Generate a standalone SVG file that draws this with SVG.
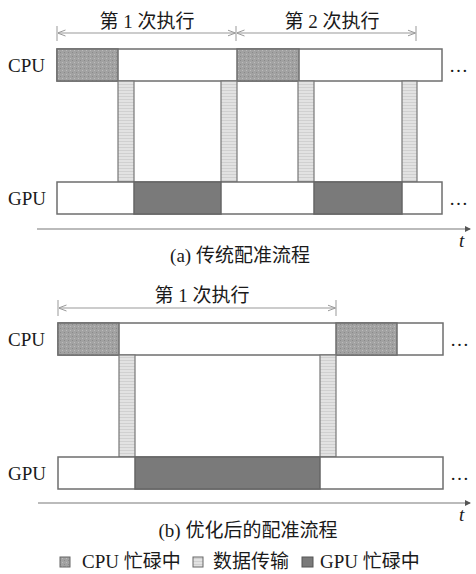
<svg xmlns="http://www.w3.org/2000/svg" width="476" height="574" viewBox="0 0 476 574">
<style>
.lbl{font-family:"Liberation Serif","Noto Sans CJK SC",serif;font-size:19px;fill:#1a1a1a}
.cjk{font-family:"Liberation Serif","Noto Sans CJK SC",serif;font-size:19px;fill:#1a1a1a}
.bar{fill:#fff;stroke:#6e6e6e;stroke-width:1.5}
.cpu{fill:url(#pCpu);stroke:#6e6e6e;stroke-width:1.5}
.gpu{fill:#7a7a7a;stroke:#666;stroke-width:1.5}
.xfer{fill:url(#pXfer);stroke:#777;stroke-width:1.2}
.dim{stroke:#999;stroke-width:1;fill:none}
.tick{stroke:#999;stroke-width:1}
.axis{stroke:#bbb;stroke-width:2;fill:none}
</style>
<defs>
<pattern id="pCpu" width="4" height="4" patternUnits="userSpaceOnUse">
<rect width="4" height="4" fill="#a2a2a2"/>
<rect x="0" y="0" width="1" height="1" fill="#8a8a8a"/>
<rect x="2" y="2" width="1" height="1" fill="#bcbcbc"/>
</pattern>
<pattern id="pXfer" width="4" height="3" patternUnits="userSpaceOnUse">
<rect width="4" height="3" fill="#e2e2e2"/>
<rect x="0" y="0" width="4" height="1" fill="#d0d0d0"/>
</pattern>
<marker id="ah" viewBox="0 0 8 8" refX="7.5" refY="4" markerWidth="8" markerHeight="8" markerUnits="userSpaceOnUse" orient="auto-start-reverse">
<path d="M0,1 L8,4 L0,7" fill="none" stroke="#999" stroke-width="1"/>
</marker>
<marker id="ax" viewBox="0 0 6 6" refX="5" refY="3" markerWidth="6" markerHeight="6" markerUnits="userSpaceOnUse" orient="auto">
<path d="M0,0 L6,3 L0,6 Z" fill="#555"/>
</marker>
</defs>

<!-- (a) -->
<g id="dim-a">
<line class="tick" x1="57" y1="26" x2="57" y2="41"/>
<line class="tick" x1="236" y1="26" x2="236" y2="41"/>
<line class="tick" x1="416" y1="26" x2="416" y2="41"/>
<line class="dim" x1="58" y1="33" x2="235" y2="33" marker-start="url(#ah)" marker-end="url(#ah)"/>
<line class="dim" x1="237" y1="33" x2="415" y2="33" marker-start="url(#ah)" marker-end="url(#ah)"/>
<text class="cjk" x="147" y="28" text-anchor="middle">第 1 次执行</text>
<text class="cjk" x="332" y="28" text-anchor="middle">第 2 次执行</text>
</g>

<g id="cpu-a">
<text class="lbl" x="8" y="72">CPU</text>
<rect class="bar" x="57" y="49" width="385" height="32"/>
<rect class="cpu" x="57" y="49" width="61" height="32"/>
<rect class="cpu" x="237" y="49" width="62" height="32"/>
<text class="lbl" x="449" y="72">…</text>
</g>

<g id="xfer-a">
<rect class="xfer" x="118" y="81" width="16" height="101"/>
<rect class="xfer" x="221" y="81" width="16" height="101"/>
<rect class="xfer" x="298" y="81" width="16" height="101"/>
<rect class="xfer" x="402" y="81" width="15" height="101"/>
</g>

<g id="gpu-a">
<text class="lbl" x="8" y="205">GPU</text>
<rect class="bar" x="57" y="182" width="385" height="32"/>
<rect class="gpu" x="134" y="182" width="87" height="32"/>
<rect class="gpu" x="314" y="182" width="88" height="32"/>
<text class="lbl" x="449" y="205">…</text>
</g>

<g id="axis-a">
<line class="axis" x1="37" y1="229" x2="470" y2="229" marker-end="url(#ax)"/>
<text class="lbl" x="459" y="247" font-style="italic">t</text>
<text class="cjk" x="240" y="262" text-anchor="middle">(a) 传统配准流程</text>
</g>

<!-- (b) -->
<g id="dim-b">
<line class="tick" x1="58" y1="300" x2="58" y2="316"/>
<line class="tick" x1="336" y1="300" x2="336" y2="316"/>
<line class="dim" x1="59" y1="308" x2="335" y2="308" marker-start="url(#ah)" marker-end="url(#ah)"/>
<text class="cjk" x="202" y="302" text-anchor="middle">第 1 次执行</text>
</g>

<g id="cpu-b">
<text class="lbl" x="8" y="346">CPU</text>
<rect class="bar" x="58" y="323" width="385" height="32"/>
<rect class="cpu" x="58" y="323" width="61" height="32"/>
<rect class="cpu" x="336" y="323" width="61" height="32"/>
<text class="lbl" x="450" y="346">…</text>
</g>

<g id="xfer-b">
<rect class="xfer" x="119" y="355" width="16" height="102"/>
<rect class="xfer" x="320" y="355" width="16" height="102"/>
</g>

<g id="gpu-b">
<text class="lbl" x="8" y="480">GPU</text>
<rect class="bar" x="58" y="457" width="385" height="32"/>
<rect class="gpu" x="135" y="457" width="185" height="32"/>
<text class="lbl" x="450" y="480">…</text>
</g>

<g id="axis-b">
<line class="axis" x1="38" y1="503" x2="470" y2="503" marker-end="url(#ax)"/>
<text class="lbl" x="459" y="521" font-style="italic">t</text>
<text class="cjk" x="248" y="537" text-anchor="middle">(b) 优化后的配准流程</text>
</g>

<g id="legend">
<rect x="60" y="557" width="10" height="10" fill="url(#pCpu)" stroke="#666" stroke-width="1"/>
<text class="cjk" x="82" y="568">CPU 忙碌中</text>
<rect x="193" y="557" width="10" height="10" fill="url(#pXfer)" stroke="#666" stroke-width="1"/>
<text class="cjk" x="213" y="568">数据传输</text>
<rect x="302" y="557" width="11" height="10" fill="#7a7a7a" stroke="#555" stroke-width="1"/>
<text class="cjk" x="320" y="568">GPU 忙碌中</text>
</g>
</svg>
